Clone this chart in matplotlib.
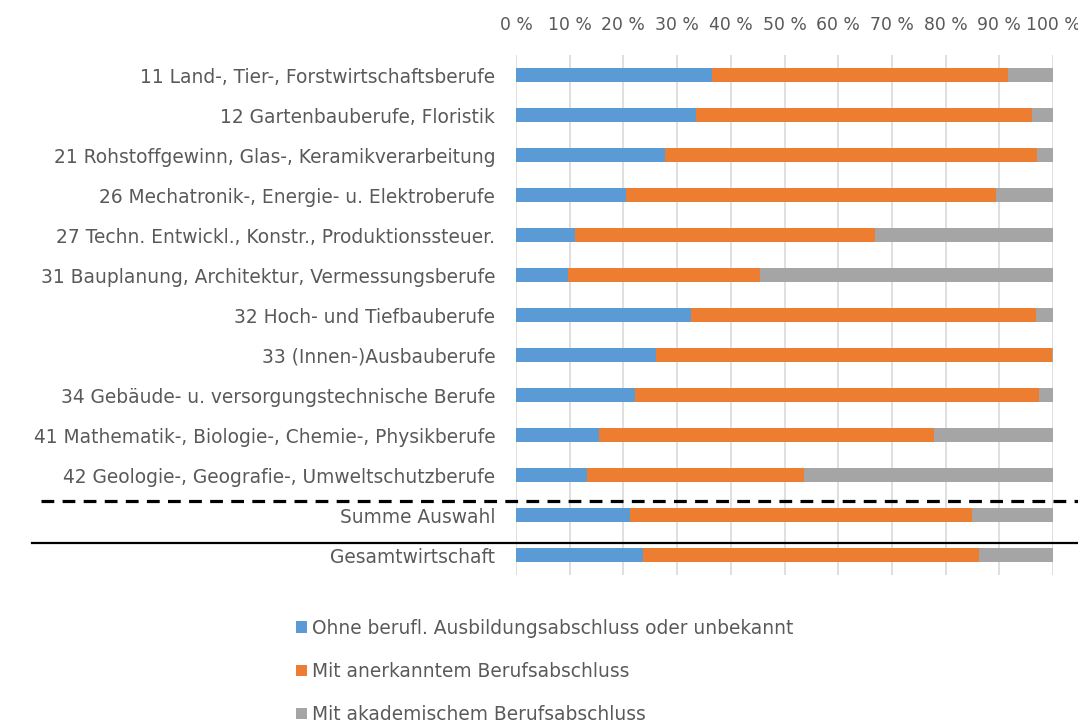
import numpy as np
import matplotlib
matplotlib.use("Agg")
import matplotlib.pyplot as plt
from matplotlib.patches import Patch
from matplotlib.transforms import blended_transform_factory

categories = [
    "11 Land-, Tier-, Forstwirtschaftsberufe",
    "12 Gartenbauberufe, Floristik",
    "21 Rohstoffgewinn, Glas-, Keramikverarbeitung",
    "26 Mechatronik-, Energie- u. Elektroberufe",
    "27 Techn. Entwickl., Konstr., Produktionssteuer.",
    "31 Bauplanung, Architektur, Vermessungsberufe",
    "32 Hoch- und Tiefbauberufe",
    "33 (Innen-)Ausbauberufe",
    "34 Gebäude- u. versorgungstechnische Berufe",
    "41 Mathematik-, Biologie-, Chemie-, Physikberufe",
    "42 Geologie-, Geografie-, Umweltschutzberufe",
    "Summe Auswahl",
    "Gesamtwirtschaft",
]
ohne = [36.5, 33.6, 27.8, 20.4, 10.9, 9.7, 32.6, 26.1, 22.2, 15.4, 13.3, 21.3, 23.6]
anerkannt = [55.2, 62.4, 69.3, 68.9, 56.0, 35.7, 64.2, 73.8, 75.2, 62.5, 40.4, 63.6, 62.7]
akademisch = [8.3, 4.0, 2.9, 10.7, 33.1, 54.6, 3.2, 0.1, 2.6, 22.1, 46.3, 15.1, 13.7]
series_names = [
    "Ohne berufl. Ausbildungsabschluss oder unbekannt",
    "Mit anerkanntem Berufsabschluss",
    "Mit akademischem Berufsabschluss",
]
colors = ["#5B9BD5", "#ED7D31", "#A5A5A5"]
xticks = np.arange(0, 101, 10)

plt.rcParams['font.family'] = ['DejaVu Sans']
txt = "#595959"
fs = 13.4

fig = plt.figure(figsize=(10.78, 7.24), dpi=100)
ax = fig.add_axes([0.4787, 0.2058, 0.4981, 0.7182])

y = np.arange(len(categories))
left = np.zeros(len(categories))
for vals, col in zip([ohne, anerkannt, akademisch], colors):
    ax.barh(y, vals, left=left, height=0.37, color=col, zorder=3)
    left += np.array(vals)

ax.set_xlim(0, 100)
ax.set_ylim(len(categories) - 0.5, -0.5)
ax.set_yticks(y)
ax.set_yticklabels(categories, fontsize=fs, color=txt)
ax.set_xticks(xticks)
ax.set_xticklabels([f"{v} %" for v in xticks], fontsize=12.4, color=txt)
ax.xaxis.tick_top()
ax.tick_params(axis='both', length=0)
ax.tick_params(axis='y', pad=15)
ax.tick_params(axis='x', pad=15)
ax.grid(axis='x', color="#D9D9D9", linewidth=1.2, zorder=0)
for s in ax.spines.values():
    s.set_visible(False)

# separator lines between groups
trans = blended_transform_factory(fig.transFigure, ax.transData)
ax.plot([0.038, 1.0], [10.65, 10.65], transform=trans, color="black",
        linewidth=2.3, linestyle=(0, (4, 2.6)), clip_on=False, zorder=5)
ax.plot([0.030, 1.0], [11.7, 11.7], transform=trans, color="black",
        linewidth=1.6, clip_on=False, zorder=5)

handles = [Patch(facecolor=c, edgecolor="none") for c in colors]
leg = fig.legend(handles, series_names, loc="upper left",
                 bbox_to_anchor=(0.268, 0.156), frameon=False,
                 fontsize=fs, handlelength=0.55, handleheight=0.55,
                 handletextpad=0.3, labelspacing=1.3, borderaxespad=0)
for t in leg.get_texts():
    t.set_color(txt)

fig.savefig("out.png", dpi=100, facecolor="white")
